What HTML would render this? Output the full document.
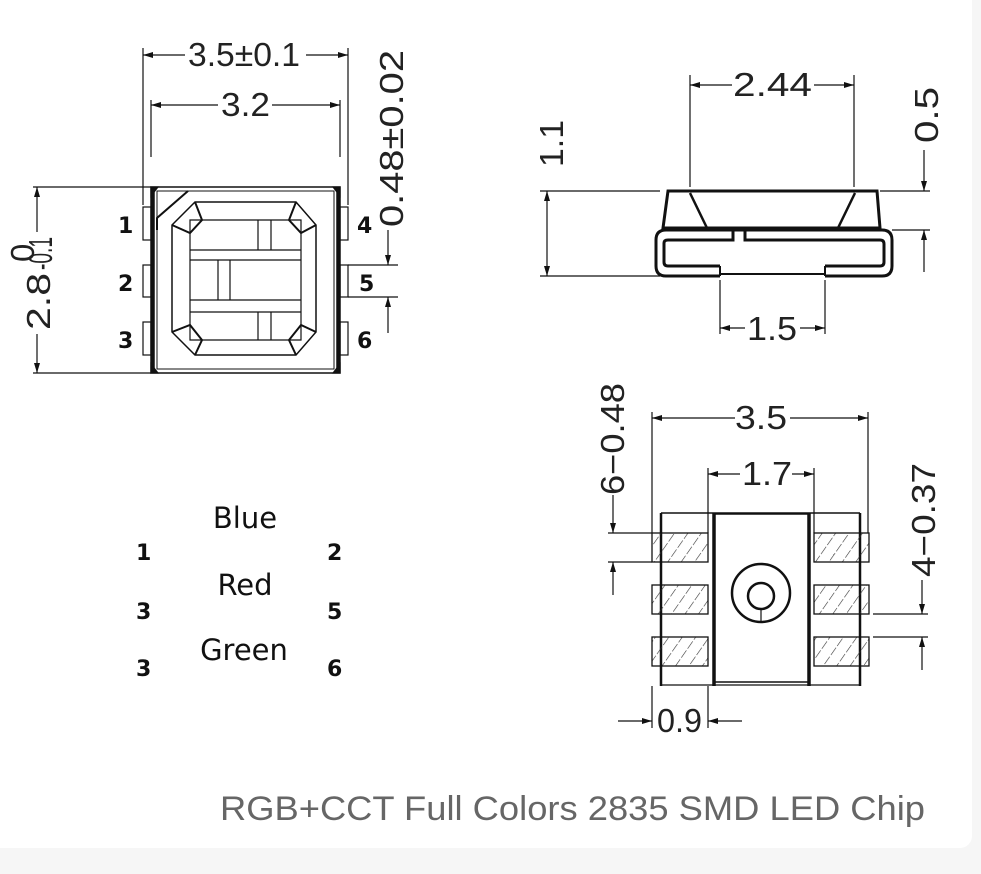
<!DOCTYPE html>
<html><head><meta charset="utf-8"><style>
html,body{margin:0;padding:0;background:#f6f6f6;}
.card{position:absolute;left:0;top:0;width:972px;height:848px;background:#fff;border-radius:0 0 12px 0;}
svg{position:absolute;left:0;top:0;}
.d{font-family:"Liberation Sans",sans-serif;font-size:33px;fill:#222;}
.n{font-family:"DejaVu Sans","Liberation Sans",sans-serif;font-weight:bold;font-size:22px;fill:#111;}
.l{font-family:"DejaVu Sans","Liberation Sans",sans-serif;font-size:29px;fill:#111;}
</style></head><body>
<div class="card"></div>
<svg width="981" height="874" viewBox="0 0 981 874" xmlns="http://www.w3.org/2000/svg">
<defs>
<marker id="a" viewBox="0 0 10 6" refX="10" refY="3" markerWidth="12" markerHeight="6" markerUnits="userSpaceOnUse" orient="auto-start-reverse"><path d="M0,0L10,3L0,6z" fill="#111"/></marker>
<pattern id="h" width="11" height="11" patternUnits="userSpaceOnUse" patternTransform="rotate(35)"><line x1="0" y1="0" x2="0" y2="11" stroke="#333" stroke-width="1.2" stroke-dasharray="5,2"/></pattern>
</defs>
<g stroke="#111" fill="none" stroke-width="1.2">
<line x1="143" y1="48" x2="143" y2="205"/><line x1="348" y1="48" x2="348" y2="205"/>
<line x1="143" y1="55" x2="185" y2="55" marker-start="url(#a)"/><line x1="306" y1="55" x2="348" y2="55" marker-end="url(#a)"/>
<line x1="151" y1="100" x2="151" y2="157"/><line x1="340" y1="100" x2="340" y2="157"/>
<line x1="151" y1="105" x2="218" y2="105" marker-start="url(#a)"/><line x1="272" y1="105" x2="340" y2="105" marker-end="url(#a)"/>
<rect x="151" y="187" width="189" height="186" stroke-width="1.5"/>
<line x1="153" y1="187" x2="153" y2="373" stroke-width="3.5"/><line x1="338" y1="187" x2="338" y2="373" stroke-width="3.5"/>
<rect x="157" y="191" width="177" height="178" stroke-width="1"/>
<path d="M157,230 L157,218 L188,191" stroke-width="2"/>
<path d="M151,187 L158,187 L151,196z M340,187 L333,187 L340,196z M151,373 L158,373 L151,364z M340,373 L333,373 L340,364z" fill="#111"/>
<g stroke-width="1.2">
<rect x="143" y="207" width="8" height="33"/><rect x="143" y="265" width="8" height="32"/><rect x="143" y="322" width="8" height="33"/>
<rect x="340" y="207" width="8" height="33"/><rect x="340" y="265" width="8" height="32"/><rect x="340" y="322" width="8" height="33"/>
</g>
<path d="M172,225 L195,202 L296,202 L316,225 L316,332 L296,355 L195,355 L172,332z" stroke-width="1.5"/>
<path d="M190,220 L301,220 L301,340 L190,340z"/>
<path d="M172,225 L190,233 L202,220 L195,202 M316,225 L301,233 L289,220 L296,202 M172,332 L190,325 L202,340 L195,355 M316,332 L301,325 L289,340 L296,355" stroke-width="2"/>
<line x1="190" y1="250" x2="301" y2="250"/><line x1="190" y1="260" x2="301" y2="260"/>
<line x1="190" y1="300" x2="301" y2="300"/><line x1="190" y1="312" x2="301" y2="312"/>
<line x1="258" y1="220" x2="258" y2="250"/><line x1="271" y1="220" x2="271" y2="250"/>
<line x1="218" y1="260" x2="218" y2="300"/><line x1="230" y1="260" x2="230" y2="300"/>
<line x1="258" y1="312" x2="258" y2="340"/><line x1="271" y1="312" x2="271" y2="340"/>
<line x1="33" y1="187" x2="151" y2="187"/><line x1="33" y1="373" x2="151" y2="373"/>
<line x1="37" y1="187" x2="37" y2="232" marker-start="url(#a)"/><line x1="37" y1="334" x2="37" y2="373" marker-end="url(#a)"/>
<line x1="348" y1="265" x2="398" y2="265"/><line x1="348" y1="297" x2="398" y2="297"/>
<line x1="388" y1="230" x2="388" y2="265" marker-end="url(#a)"/><line x1="388" y1="297" x2="388" y2="333" marker-start="url(#a)"/>
<line x1="690" y1="75" x2="690" y2="187"/><line x1="854" y1="75" x2="854" y2="187"/>
<line x1="690" y1="85" x2="732" y2="85" marker-start="url(#a)"/><line x1="814" y1="85" x2="854" y2="85" marker-end="url(#a)"/>
<path d="M668,191 L877,191 L880,228 L663,228z" stroke-width="3"/>
<line x1="690" y1="193" x2="707" y2="228" stroke-width="2.5"/><line x1="855" y1="193" x2="838" y2="228" stroke-width="2.5"/>
<path d="M720,276 L666,276 Q656,276 656,266 L656,240 Q656,230 666,230 L882,230 Q892,230 892,240 L892,266 Q892,276 882,276 L825,276" stroke-width="3"/>
<path d="M720,266 L668,266 Q664,266 664,262 L664,243 Q664,240 668,240 L733,240 L733,230 M745,230 L745,240 L880,240 Q884,240 884,244 L884,262 Q884,266 880,266 L825,266" stroke-width="3"/>
<line x1="720" y1="266" x2="720" y2="276" stroke-width="2"/><line x1="825" y1="266" x2="825" y2="276" stroke-width="2"/>
<line x1="720" y1="274" x2="825" y2="274" stroke-width="2"/>
<line x1="540" y1="191" x2="660" y2="191"/><line x1="540" y1="276" x2="660" y2="276"/>
<line x1="547" y1="191" x2="547" y2="276" marker-start="url(#a)" marker-end="url(#a)"/>
<line x1="880" y1="191" x2="930" y2="191"/><line x1="892" y1="230" x2="930" y2="230"/>
<line x1="924" y1="150" x2="924" y2="191" marker-end="url(#a)"/><line x1="924" y1="230" x2="924" y2="272" marker-start="url(#a)"/>
<line x1="720" y1="280" x2="720" y2="334"/><line x1="825" y1="280" x2="825" y2="334"/>
<line x1="720" y1="328" x2="745" y2="328" marker-start="url(#a)"/><line x1="800" y1="328" x2="825" y2="328" marker-end="url(#a)"/>
<line x1="652" y1="412" x2="652" y2="533"/><line x1="868" y1="412" x2="868" y2="533"/>
<line x1="652" y1="418" x2="735" y2="418" marker-start="url(#a)"/><line x1="790" y1="418" x2="868" y2="418" marker-end="url(#a)"/>
<line x1="708" y1="468" x2="708" y2="533"/><line x1="814" y1="468" x2="814" y2="533"/>
<line x1="708" y1="474" x2="740" y2="474" marker-start="url(#a)"/><line x1="792" y1="474" x2="814" y2="474" marker-end="url(#a)"/>
<line x1="661" y1="513" x2="661" y2="686" stroke-width="2.5"/><line x1="860" y1="513" x2="860" y2="686" stroke-width="2.5"/>
<line x1="661" y1="513" x2="860" y2="513" stroke-width="1.5"/><line x1="661" y1="685" x2="860" y2="685"/>
<rect x="714" y="514" width="95" height="168" stroke-width="1.5"/>
<line x1="714" y1="513" x2="714" y2="686" stroke-width="3.5"/><line x1="809" y1="513" x2="809" y2="686" stroke-width="3.5"/>
<g fill="url(#h)" stroke-width="1.3">
<rect x="652" y="533" width="56" height="29"/><rect x="652" y="585" width="56" height="29"/><rect x="652" y="637" width="56" height="29"/>
<rect x="814" y="533" width="55" height="29"/><rect x="814" y="585" width="55" height="29"/><rect x="814" y="637" width="55" height="29"/>
</g>
<circle cx="761" cy="593" r="29" stroke-width="2.5"/><circle cx="761" cy="596" r="13" stroke-width="2.5"/>
<line x1="761" y1="609" x2="761" y2="622"/>
<line x1="608" y1="533" x2="652" y2="533"/><line x1="608" y1="562" x2="652" y2="562"/>
<line x1="613" y1="495" x2="613" y2="533" marker-end="url(#a)"/><line x1="613" y1="562" x2="613" y2="595" marker-start="url(#a)"/>
<line x1="873" y1="614" x2="928" y2="614"/><line x1="873" y1="637" x2="928" y2="637"/>
<line x1="922" y1="580" x2="922" y2="614" marker-end="url(#a)"/><line x1="922" y1="637" x2="922" y2="670" marker-start="url(#a)"/>
<line x1="652" y1="686" x2="652" y2="728"/><line x1="708" y1="686" x2="708" y2="728"/>
<line x1="618" y1="721" x2="652" y2="721" marker-end="url(#a)"/><line x1="742" y1="721" x2="708" y2="721" marker-end="url(#a)"/>
</g>
<text class="d" x="188" y="66" textLength="112" lengthAdjust="spacingAndGlyphs">3.5±0.1</text>
<text class="d" x="221" y="116" textLength="49" lengthAdjust="spacingAndGlyphs">3.2</text>
<text class="d" transform="translate(50,330) rotate(-90)" textLength="57" lengthAdjust="spacingAndGlyphs">2.8</text>
<text class="d" font-size="17" transform="translate(52,270) rotate(-90)" textLength="33" lengthAdjust="spacingAndGlyphs">-0.1</text>
<text class="d" font-size="17" transform="translate(34,262) rotate(-90)">0</text>
<text class="d" transform="translate(403,227) rotate(-90)" textLength="177" lengthAdjust="spacingAndGlyphs">0.48±0.02</text>
<text class="n" x="118" y="233">1</text><text class="n" x="118" y="291">2</text><text class="n" x="118" y="348">3</text>
<text class="n" x="357" y="233">4</text><text class="n" x="359" y="291">5</text><text class="n" x="357" y="348">6</text>
<text class="d" x="733" y="96" textLength="79" lengthAdjust="spacingAndGlyphs">2.44</text>
<text class="d" transform="translate(563,167) rotate(-90)" textLength="47" lengthAdjust="spacingAndGlyphs">1.1</text>
<text class="d" transform="translate(938,143) rotate(-90)" textLength="56" lengthAdjust="spacingAndGlyphs">0.5</text>
<text class="d" x="747" y="340" textLength="50" lengthAdjust="spacingAndGlyphs">1.5</text>
<text class="d" x="735" y="429" textLength="52" lengthAdjust="spacingAndGlyphs">3.5</text>
<text class="d" x="742" y="485" textLength="50" lengthAdjust="spacingAndGlyphs">1.7</text>
<text class="d" transform="translate(624,495) rotate(-90)" textLength="112" lengthAdjust="spacingAndGlyphs">6−0.48</text>
<text class="d" transform="translate(935,577) rotate(-90)" textLength="114" lengthAdjust="spacingAndGlyphs">4−0.37</text>
<text class="d" x="657" y="732" textLength="45" lengthAdjust="spacingAndGlyphs">0.9</text>
<text class="l" x="245" y="528" text-anchor="middle">Blue</text>
<text class="l" x="245" y="595" text-anchor="middle">Red</text>
<text class="l" x="244" y="660" text-anchor="middle">Green</text>
<text class="n" x="136" y="560">1</text><text class="n" x="327" y="560">2</text>
<text class="n" x="136" y="619">3</text><text class="n" x="327" y="619">5</text>
<text class="n" x="136" y="676">3</text><text class="n" x="327" y="676">6</text>
<text x="220" y="820" font-family="'Liberation Sans',sans-serif" font-size="34" fill="#666" textLength="705" lengthAdjust="spacingAndGlyphs">RGB+CCT Full Colors 2835 SMD LED Chip</text>
</svg>
</body></html>
